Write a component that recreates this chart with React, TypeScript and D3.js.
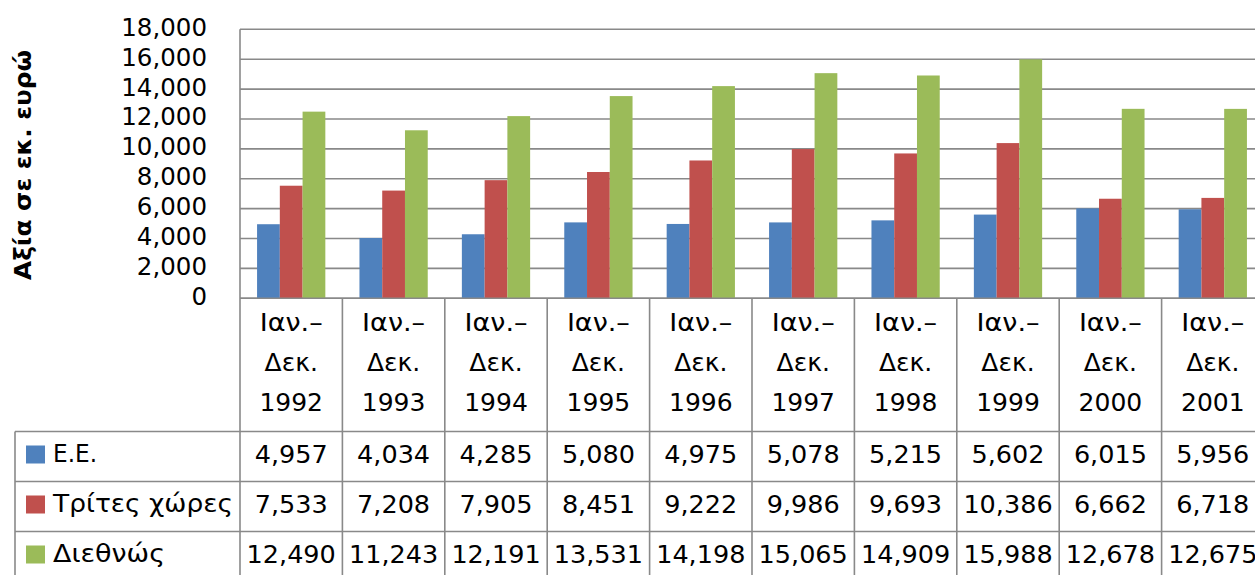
import React from "react";
import * as d3 from "d3";

const categories = ["1992", "1993", "1994", "1995", "1996", "1997", "1998", "1999", "2000", "2001"];
const seriesNames = ["Ε.Ε.", "Τρίτες χώρες", "Διεθνώς"];
const euValues = [4957, 4034, 4285, 5080, 4975, 5078, 5215, 5602, 6015, 5956];
const thirdValues = [7533, 7208, 7905, 8451, 9222, 9986, 9693, 10386, 6662, 6718];
const intlValues = [12490, 11243, 12191, 13531, 14198, 15065, 14909, 15988, 12678, 12675];
const yTicks = [0, 2000, 4000, 6000, 8000, 10000, 12000, 14000, 16000, 18000];
const colors = ["#4F81BD", "#C0504D", "#9BBB59"];
const yTitle = "Αξία σε εκ. ευρώ";
const legendLabelWidths = [44, 180, 112];

const W = 1255, H = 575;
const plotLeft = 240, plotRight = 1264, plotTop = 29.3, plotBottom = 298.3;
const headerBottom = 431.5, rowH = 50, tableLeft = 15;
const FONT = "'DejaVu Sans', sans-serif";
const GRID = "#898989";

export default function App() {
  const series = [euValues, thirdValues, intlValues];
  const x = d3.scaleBand<string>().domain(categories).range([plotLeft, plotRight]).paddingInner(0).paddingOuter(0);
  const y = d3.scaleLinear().domain([0, 18000]).range([plotBottom, plotTop]);
  const bw = x.bandwidth() / 4.5;
  const fmt = d3.format(",");
  const tableBottom = H + 10;

  return (
    <svg width={W} height={H} style={{ position: "absolute", left: 0, top: 0, background: "#fff" }} fontFamily={FONT}>
      {yTicks.map((t) => (
        <line key={"g" + t} x1={plotLeft} x2={plotRight} y1={y(t)} y2={y(t)} stroke={GRID} strokeWidth={1.6} />
      ))}
      {yTicks.map((t) => (
        <text key={"t" + t} x={207} y={y(t) - 2} textAnchor="end" dominantBaseline="central" fontSize={24.5}>
          {fmt(t)}
        </text>
      ))}
      <text transform={`translate(23,${165}) rotate(-90)`} textAnchor="middle" dominantBaseline="central" fontSize={23} fontWeight="bold" textLength={230} lengthAdjust="spacingAndGlyphs">
        {yTitle}
      </text>
      {categories.map((c) => (
        <g key={"b" + c}>
          {series.map((s, si) => {
            const v = s[categories.indexOf(c)];
            const x0 = (x(c) as number) + bw * 0.75 + si * bw;
            return <rect key={si} x={x0} y={y(v)} width={bw} height={plotBottom - y(v)} fill={colors[si]} />;
          })}
        </g>
      ))}
      <line x1={plotLeft} x2={plotLeft} y1={plotTop} y2={tableBottom} stroke={GRID} strokeWidth={1.6} />
      {categories.map((c) => (
        <line key={"v" + c} x1={(x(c) as number) + x.bandwidth()} x2={(x(c) as number) + x.bandwidth()} y1={plotBottom} y2={tableBottom} stroke={GRID} strokeWidth={1.6} />
      ))}
      <line x1={tableLeft} x2={tableLeft} y1={headerBottom} y2={tableBottom} stroke={GRID} strokeWidth={1.6} />
      <line x1={plotLeft} x2={plotRight} y1={plotBottom} y2={plotBottom} stroke={GRID} strokeWidth={1.6} />
      {[0, 1, 2].map((i) => (
        <line key={"h" + i} x1={tableLeft} x2={plotRight} y1={headerBottom + i * rowH} y2={headerBottom + i * rowH} stroke={GRID} strokeWidth={1.6} />
      ))}
      {categories.map((c) => {
        const cx = (x(c) as number) + x.bandwidth() / 2;
        return (
          <g key={"hl" + c} fontSize={25} textAnchor="middle">
            <text x={cx} y={322} dominantBaseline="central" textLength={63} lengthAdjust="spacingAndGlyphs">Ιαν.–</text>
            <text x={cx} y={362} dominantBaseline="central">Δεκ.</text>
            <text x={cx} y={402} dominantBaseline="central">{c}</text>
          </g>
        );
      })}
      {series.map((s, si) => {
        const cy = headerBottom + si * rowH + rowH / 2 - 3;
        return (
          <g key={"r" + si}>
            <rect x={26} y={cy - 8} width={19} height={18} fill={colors[si]} />
            <text x={53} y={cy} dominantBaseline="central" fontSize={25} textLength={legendLabelWidths[si]} lengthAdjust="spacingAndGlyphs">{seriesNames[si]}</text>
            {categories.map((c, ci) => (
              <text key={c} x={(x(c) as number) + x.bandwidth() / 2} y={cy} textAnchor="middle" dominantBaseline="central" fontSize={25.5}>
                {fmt(s[ci])}
              </text>
            ))}
          </g>
        );
      })}
    </svg>
  );
}
